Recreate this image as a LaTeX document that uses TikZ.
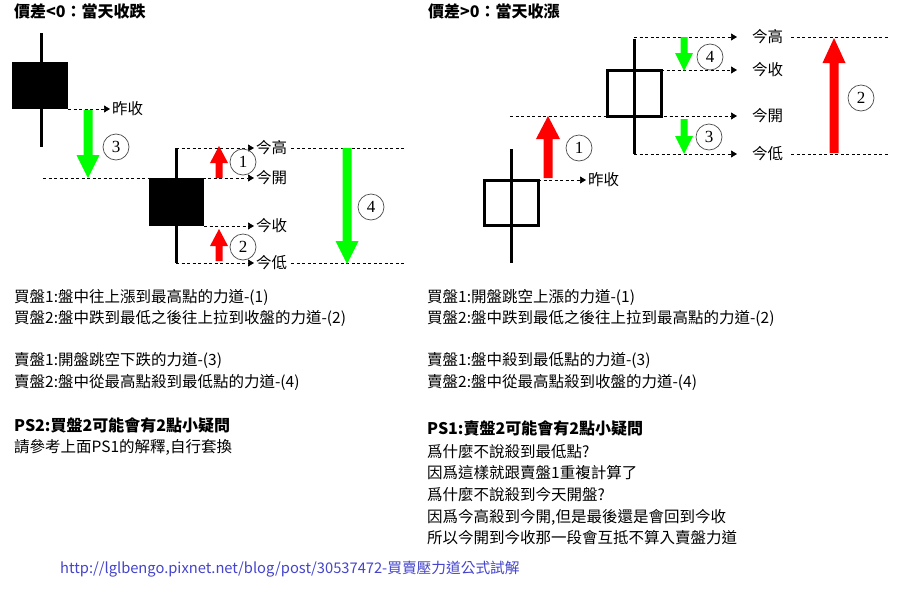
\documentclass[tikz,border=0pt]{standalone}
\usepackage{fontspec}
\setmainfont{Liberation Serif}
\newfontfamily\cjk{Noto Sans CJK TC}
\usetikzlibrary{arrows.meta}
\definecolor{brgreen}{RGB}{0,255,0}
\definecolor{brred}{RGB}{255,0,0}
\definecolor{urlblue}{RGB}{68,68,204}
% #1 colour, #2 x, #3 tail y, #4 tip y, #5 shaft half width, #6 head half width, #7 head length
\newcommand\blockarr[7]{%
  \pgfmathsetmacro\bdir{(#4>#3) ? 1 : -1}%
  \fill[#1] (#2-#5,#3) -- (#2-#5,#4-\bdir*#7) -- (#2-#6,#4-\bdir*#7) -- (#2,#4)
    -- (#2+#6,#4-\bdir*#7) -- (#2+#5,#4-\bdir*#7) -- (#2+#5,#3) -- cycle;}
\tikzset{
  dline/.style={dash pattern=on 3pt off 2.5pt, line width=0.7pt},
  dl/.style={dline, -{Triangle[length=6pt,width=7pt]}},
  wick/.style={line width=3pt},
  hollow/.style={line width=3pt},
  num/.style={circle, draw=black!70, line width=0.7pt, minimum size=26pt, inner sep=0pt, font=\fontsize{17}{17}\selectfont},
  lbl/.style={font=\cjk\fontsize{15.5}{18}\selectfont, inner xsep=2pt, inner ysep=0pt, anchor=west},
  lblr/.style={font=\cjk\fontsize{15.5}{18}\selectfont, inner sep=0pt, anchor=west},
  txt/.style={font=\cjk\fontsize{15.5}{18}\selectfont, inner sep=0pt, anchor=west},
  ttl/.style={font=\cjk\bfseries\fontsize{16}{18}\selectfont, inner sep=0pt, anchor=west},
}
\begin{document}
\begin{tikzpicture}[x=1pt,y=-1pt]
\fill[white] (0,0) rectangle (900,600);
\useasboundingbox (0,0) rectangle (900,600);

% ---------------- left diagram ----------------
\node[ttl] (Ltitle) at (14,11) {價差<0：當天收跌};
\node[lbl] (Lzs) at (110,109) {昨收};
\node[lbl] (Lhigh) at (254,148) {今高};
\node[lbl] (Lopen) at (254,178) {今開};
\node[lbl] (Lclose) at (254,226) {今收};
\node[lbl] (Llow) at (254,263) {今低};

\draw[dl] (68,109) -- (Lzs.west);
\draw[dl] (43,178) -- (Lopen.west);
\draw[dl] (176,148) -- (Lhigh.west);
\draw[dl] (204,226) -- (Lclose.west);
\draw[dl] (176,263) -- (Llow.west);
\draw[dline] ([xshift=2pt]Lhigh.east) -- (405,148);
\draw[dline] ([xshift=2pt]Llow.east) -- (405,263);

\draw[wick] (41,33) -- (41,147);
\fill (12,62) rectangle (68,109);
\draw[wick] (176,148) -- (176,263);
\fill (149,178) rectangle (204,226);

\blockarr{brgreen}{88}{110}{178}{4.5}{11.5}{23}
\blockarr{brred}{219}{178}{146}{3.5}{9}{17}
\blockarr{brred}{219}{261}{229}{3.5}{9}{17}
\blockarr{brgreen}{347}{148}{264}{4.5}{11.5}{23}

\node[num] (Lc3) at (116,147) {3};
\node[num] (Lc1) at (243,162) {1};
\node[num] (Lc2) at (243,247) {2};
\node[num] (Lc4) at (371,207) {4};

% ---------------- right diagram ----------------
\node[ttl] (Rtitle) at (428,11) {價差>0：當天收漲};
\node[lbl] (Rzs) at (586,180) {昨收};
\node[lblr] (Rhigh) at (752,37) {今高};
\node[lblr] (Rclose) at (752,70) {今收};
\node[lblr] (Ropen) at (752,116) {今開};
\node[lblr] (Rlow) at (752,154) {今低};

\draw[dl] (538,180) -- (Rzs.west);
\draw[dl] (510,116) -- ([xshift=-15pt]Ropen.west);
\draw[dl] (634,37) -- ([xshift=-15pt]Rhigh.west);
\draw[dl] (661,70) -- ([xshift=-15pt]Rclose.west);
\draw[dl] (634,154) -- ([xshift=-15pt]Rlow.west);
\draw[dline] ([xshift=8pt]Rhigh.east) -- (888,37);
\draw[dline] ([xshift=8pt]Rlow.east) -- (888,154);

\draw[wick] (511,149) -- (511,263);
\draw[hollow] (484,180) rectangle (538,225);
\draw[wick] (634,39) -- (634,154);
\draw[hollow] (607,70) rectangle (661,116);

\blockarr{brred}{548}{178}{116}{4.5}{12}{23}
\blockarr{brgreen}{684}{37}{71}{3.5}{9}{18}
\blockarr{brgreen}{684}{119}{154}{3.5}{9}{18}
\blockarr{brred}{834}{153}{38}{4.5}{11.5}{25}

\node[num] (Rc1) at (579,148) {1};
\node[num] (Rc4) at (710,57) {4};
\node[num] (Rc3) at (709,137) {3};
\node[num] (Rc2) at (861,98) {2};

% ---------------- texts ----------------
\node[txt] (t1) at (14,297) {買盤1:盤中往上漲到最高點的力道-(1)};
\node[txt] (t2) at (14,318) {買盤2:盤中跌到最低之後往上拉到收盤的力道-(2)};
\node[txt] (t3) at (14,360) {賣盤1:開盤跳空下跌的力道-(3)};
\node[txt] (t4) at (14,382) {賣盤2:盤中從最高點殺到最低點的力道-(4)};
\node[ttl] (t5) at (14,425) {PS2:買盤2可能會有2點小疑問};
\node[txt] (t6) at (14,447) {請參考上面PS1的解釋,自行套換};

\node[txt] (r1) at (427,297) {買盤1:開盤跳空上漲的力道-(1)};
\node[txt] (r2) at (427,318) {買盤2:盤中跌到最低之後往上拉到最高點的力道-(2)};
\node[txt] (r3) at (427,360) {賣盤1:盤中殺到最低點的力道-(3)};
\node[txt] (r4) at (427,382) {賣盤2:盤中從最高點殺到收盤的力道-(4)};
\node[ttl] (r5) at (427,428) {PS1:賣盤2可能會有2點小疑問};
\node[txt] (r6) at (427,452) {爲什麼不說殺到最低點?};
\node[txt] (r7) at (427,473) {因爲這樣就跟賣盤1重複計算了};
\node[txt] (r8) at (427,495) {爲什麼不說殺到今天開盤?};
\node[txt] (r9) at (427,517) {因爲今高殺到今開,但是最後還是會回到今收};
\node[txt] (r10) at (427,538) {所以今開到今收那一段會互抵不算入賣盤力道};

\node[txt, text=urlblue, font=\cjk\fontsize{14.7}{18}\selectfont] (url) at (60,569) {http://lglbengo.pixnet.net/blog/post/30537472-買賣壓力道公式試解};
\end{tikzpicture}
\end{document}
